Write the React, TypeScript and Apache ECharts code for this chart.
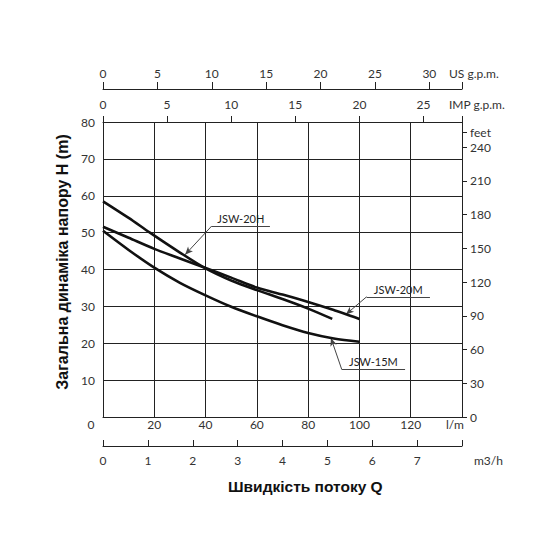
import React, { useEffect, useRef } from 'react';
import * as echarts from 'echarts';

// Flow (l/m) and head (m)
const flowJSW20H = [0, 10, 18.3, 30, 40, 50, 60, 70, 80, 89.4];
const headJSW20H = [58.5, 54, 50, 44.6, 40.3, 37, 34.4, 32, 29.4, 26.6];

const flowJSW20M = [0, 10, 20, 30, 40, 50, 60, 70, 80, 90, 100];
const headJSW20M = [51.6, 48.6, 45.6, 43, 40.4, 37.8, 35.1, 33.2, 31.2, 29, 26.6];

const flowJSW15M = [0, 10, 20, 30, 40, 50, 60, 70, 80, 90, 100];
const headJSW15M = [50.5, 45.3, 40.5, 36.4, 33.0, 29.9, 27.3, 24.9, 22.8, 21.3, 20.4];

// leader lines for the curve names: [tip on curve, elbow, end] in (l/m, m)
const leaderJSW20H = [[32.0, 44.0], [42.4, 51.8], [65.1, 51.8]];
const leaderJSW20M = [[94.7, 27.8], [102.8, 32.6], [127.5, 32.6]];
const leaderJSW15M = [[88.9, 21.4], [93.1, 12.9], [117.8, 12.9]];

const feetTicks = [0, 30, 60, 90, 120, 150, 180, 210, 240];
const feetNameAt = 253;

const FONT = 'Lato';
const LABEL_COLOR = '#333';
const LINE_COLOR = '#222';

function pairs(xs: number[], ys: number[]) {
  return xs.map((x, i) => [x, ys[i]]);
}

function leader(name: string, pts: number[][]) {
  const lbl = {
    show: true,
    formatter: name,
    position: 'insideMiddleTop',
    distance: 2,
    fontFamily: FONT,
    fontSize: 11,
    color: '#222',
  };
  return {
    silent: true,
    animation: false,
    symbol: ['none', 'none'],
    lineStyle: { color: '#444', width: 1, type: 'solid' },
    label: { show: false },
    emphasis: { disabled: true },
    data: [
      [
        { coord: pts[0], symbol: 'arrow', symbolSize: [5, 8] },
        { coord: pts[1], symbol: 'none' },
      ],
      [
        { coord: pts[1], symbol: 'none', label: lbl },
        { coord: pts[2], symbol: 'none', label: lbl },
      ],
    ],
  };
}

function curve(name: string, xs: number[], ys: number[], lead: number[][]) {
  return {
    name,
    type: 'line',
    xAxisIndex: 0,
    yAxisIndex: 0,
    data: pairs(xs, ys),
    showSymbol: false,
    symbol: 'none',
    smooth: 0.3,
    lineStyle: { color: '#111', width: 2.6 },
    z: 5,
    markLine: leader(name, lead),
  };
}

const axisLabelBase = { fontFamily: FONT, fontSize: 12, color: LABEL_COLOR };
const axisLineStyle = { show: true, onZero: false, lineStyle: { color: LINE_COLOR, width: 1 } };

export default function App() {
  const ref = useRef<HTMLDivElement>(null);
  useEffect(() => {
    const chart = echarts.init(ref.current!, null, { renderer: 'svg' });
    const option: any = {
      animation: false,
      backgroundColor: '#fff',
      title: {
        text: 'Швидкість потоку Q',
        left: 228,
        top: 478,
        padding: 0,
        textStyle: {
          fontFamily: 'Liberation Sans',
          fontWeight: 'bold',
          fontSize: 15.5,
          color: '#111',
        },
      },
      grid: { left: 103, top: 122, width: 359, height: 295, containLabel: false },
      xAxis: [
        {
          type: 'value',
          position: 'bottom',
          min: 0,
          max: 140,
          interval: 20,
          name: 'l/m',
          nameLocation: 'end',
          nameGap: -16,
          nameTextStyle: { ...axisLabelBase, verticalAlign: 'top', padding: [1, 0, 0, 0] },
          axisLine: axisLineStyle,
          axisTick: { show: false },
          splitLine: { show: true, lineStyle: { color: LINE_COLOR, width: 1 } },
          axisLabel: {
            ...axisLabelBase,
            margin: 1,
            formatter: (v: number) => (v === 0 ? '{z|0}' : v === 140 ? '' : String(v)),
            rich: { z: { ...axisLabelBase, padding: [0, 24, 0, 0] } },
          },
        },
        {
          type: 'value',
          position: 'top',
          min: 0,
          max: 28,
          interval: 5,
          name: 'IMP g.p.m.',
          nameLocation: 'end',
          nameGap: -13,
          nameTextStyle: { ...axisLabelBase, verticalAlign: 'bottom', padding: [0, 0, 12, 0] },
          axisLine: axisLineStyle,
          axisTick: { show: true, length: 6, lineStyle: { color: LINE_COLOR } },
          splitLine: { show: false },
          axisLabel: {
            ...axisLabelBase,
            margin: 12,
            formatter: (v: number) => (v % 5 === 0 ? String(v) : ''),
          },
        },
        {
          type: 'value',
          position: 'top',
          offset: 33,
          min: 0,
          max: 33,
          interval: 5,
          name: 'US g.p.m.',
          nameLocation: 'end',
          nameGap: -13,
          nameTextStyle: { ...axisLabelBase, verticalAlign: 'bottom', padding: [0, 0, 10, 0] },
          axisLine: axisLineStyle,
          axisTick: { show: true, length: 7, lineStyle: { color: LINE_COLOR } },
          splitLine: { show: false },
          axisLabel: {
            ...axisLabelBase,
            margin: 10,
            formatter: (v: number) => (v % 5 === 0 ? String(v) : ''),
          },
        },
        {
          type: 'value',
          position: 'bottom',
          offset: 29,
          min: 0,
          max: 8,
          interval: 1,
          name: 'm3/h',
          nameLocation: 'end',
          nameGap: 12,
          nameTextStyle: { ...axisLabelBase, verticalAlign: 'top', padding: [8, 0, 0, 0] },
          axisLine: axisLineStyle,
          axisTick: { show: true, inside: true, length: 6, lineStyle: { color: LINE_COLOR } },
          splitLine: { show: false },
          axisLabel: {
            ...axisLabelBase,
            margin: 8,
            formatter: (v: number) => (v === 8 ? '' : String(v)),
          },
        },
      ],
      yAxis: [
        {
          type: 'value',
          position: 'left',
          min: 0,
          max: 80,
          interval: 10,
          name: 'Загальна динаміка напору H (m)',
          nameLocation: 'middle',
          nameGap: 30,
          nameTextStyle: {
            fontFamily: 'Liberation Sans',
            fontWeight: 'bold',
            fontSize: 16,
            color: '#111',
            padding: [0, 0, 0, 15],
          },
          axisLine: axisLineStyle,
          axisTick: { show: false },
          splitLine: { show: true, lineStyle: { color: LINE_COLOR, width: 1 } },
          axisLabel: {
            ...axisLabelBase,
            margin: 8,
            formatter: (v: number) => (v === 0 ? '' : String(v)),
          },
        },
        {
          type: 'value',
          position: 'right',
          min: 0,
          max: 80 * 3.28084,
          interval: 30,
          axisLine: axisLineStyle,
          axisTick: {
            show: true,
            inside: false,
            length: 5,
            customValues: [...feetTicks, feetNameAt],
            lineStyle: { color: LINE_COLOR, width: 1 },
          },
          splitLine: { show: false },
          axisLabel: {
            ...axisLabelBase,
            margin: 8,
            customValues: [...feetTicks, feetNameAt],
            formatter: (v: number) => (v === feetNameAt ? 'feet' : String(v)),
          },
        },
      ],
      series: [
        curve('JSW-20H', flowJSW20H, headJSW20H, leaderJSW20H),
        curve('JSW-20M', flowJSW20M, headJSW20M, leaderJSW20M),
        curve('JSW-15M', flowJSW15M, headJSW15M, leaderJSW15M),
      ],
    };
    chart.setOption(option);
    return () => chart.dispose();
  }, []);
  return (
    <div
      ref={ref}
      style={{ position: 'fixed', left: 0, top: 0, width: 560, height: 560, background: '#fff' }}
    />
  );
}
